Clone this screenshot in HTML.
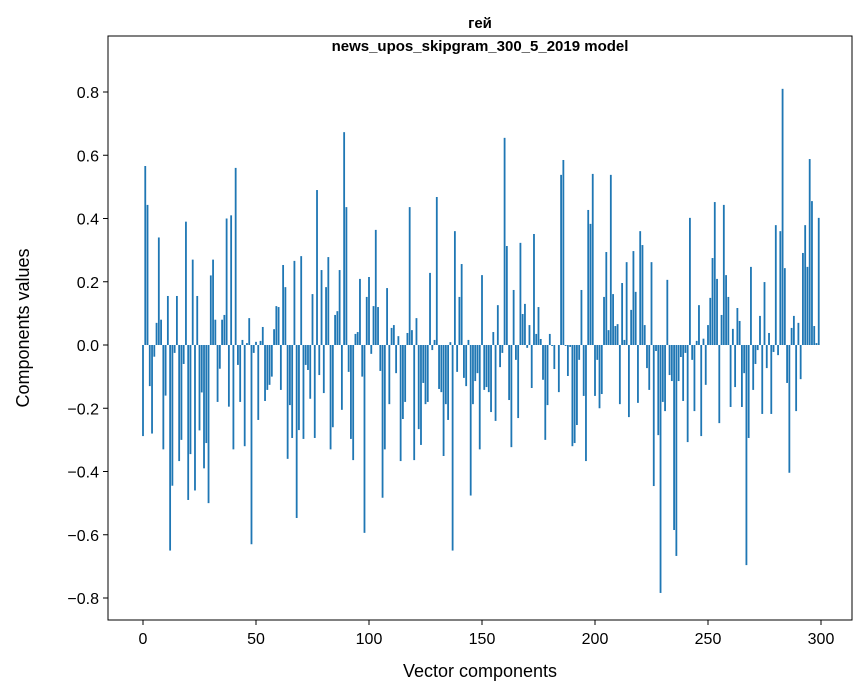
<!DOCTYPE html>
<html><head><meta charset="utf-8"><style>
body{margin:0;background:#fff;}
svg{display:block;font-family:"Liberation Sans","DejaVu Sans",sans-serif;}
</style></head><body>
<svg id="chart" width="867" height="696">
<text x="480" y="28" text-anchor="middle" font-size="15" font-weight="bold">гей</text>
<text x="480" y="51" text-anchor="middle" font-size="15" font-weight="bold">news_upos_skipgram_300_5_2019 model</text>
<g id="bars"></g>
<g id="axes"></g>
<text x="480" y="677" text-anchor="middle" font-size="18">Vector components</text>
<text transform="translate(29,328) rotate(-90)" text-anchor="middle" font-size="18">Components values</text>
</svg>
<script>
const values = [-0.288,0.566,0.443,-0.13,-0.28,-0.037,0.07,0.34,0.08,-0.33,-0.16,0.155,-0.65,-0.445,-0.025,0.155,-0.367,-0.30,-0.06,0.39,
-0.49,-0.345,0.27,-0.46,0.155,-0.27,-0.15,-0.39,-0.31,-0.50,0.22,0.27,0.08,-0.18,-0.075,0.08,0.095,0.40,-0.195,0.41,
-0.33,0.56,-0.063,-0.18,0.016,-0.32,0.006,0.085,-0.63,-0.025,0.01,-0.237,0.013,0.057,-0.177,-0.142,-0.126,-0.10,0.05,0.123,
0.12,-0.142,0.253,0.183,-0.36,-0.19,-0.294,0.266,-0.547,-0.269,0.281,-0.297,-0.063,-0.079,-0.17,0.161,-0.294,0.49,-0.095,0.237,
-0.152,0.183,0.278,-0.33,-0.26,0.095,0.107,0.237,-0.205,0.673,0.436,-0.085,-0.297,-0.364,0.035,0.041,0.209,-0.10,-0.594,0.152,
0.215,-0.028,0.123,0.364,0.12,-0.082,-0.483,-0.33,0.18,-0.187,0.054,0.063,-0.089,0.028,-0.367,-0.234,-0.18,0.038,0.436,0.047,
-0.364,0.085,-0.266,-0.316,-0.12,-0.187,-0.18,0.228,-0.016,0.016,0.468,-0.139,-0.149,-0.351,-0.187,-0.237,0.009,-0.65,0.36,-0.085,
0.152,0.256,-0.104,-0.13,0.016,-0.476,-0.187,-0.114,-0.089,-0.33,0.221,-0.142,-0.133,-0.149,-0.212,0.041,-0.24,0.126,-0.07,-0.025,
0.655,0.313,-0.174,-0.323,0.174,-0.047,-0.231,0.323,0.098,0.13,-0.009,0.063,-0.136,0.351,0.035,0.12,0.019,-0.11,-0.30,-0.19,
0.035,-0.003,-0.076,0.0,-0.149,0.538,0.585,-0.003,-0.098,-0.006,-0.32,-0.31,-0.253,-0.047,0.174,-0.161,-0.367,0.427,0.383,0.541,
-0.161,-0.047,-0.2,-0.155,0.152,0.294,0.047,0.538,0.161,0.06,0.066,-0.187,0.196,0.016,0.262,-0.228,0.111,0.297,0.168,-0.183,
0.36,0.316,0.063,-0.073,-0.142,0.262,-0.446,-0.019,-0.285,-0.784,-0.18,-0.209,0.206,-0.095,-0.114,-0.585,-0.667,-0.114,-0.038,-0.177,
-0.025,-0.307,0.402,-0.047,-0.209,0.013,0.126,-0.288,0.02,-0.126,0.063,0.149,0.275,0.452,0.209,-0.247,0.095,0.443,0.221,0.152,
-0.196,0.051,-0.133,0.117,0.076,-0.196,-0.089,-0.696,-0.294,0.247,-0.142,-0.06,-0.016,0.092,-0.218,0.199,-0.073,0.038,-0.218,-0.022,
0.379,-0.032,0.36,0.81,0.243,-0.12,-0.404,0.054,0.092,-0.209,0.07,-0.108,0.291,0.379,0.247,0.588,0.455,0.06,0.006,0.402];
const xTicks = [0,50,100,150,200,250,300];
const yTicks = [-0.8,-0.6,-0.4,-0.2,0.0,0.2,0.4,0.6,0.8];

const NS = "http://www.w3.org/2000/svg";
const L=108,R=852,T=36,B=620;
function xs(v){return 143 + v*(821-143)/300;}
function ys(v){return 345 - v*316.25;}
const bars=document.getElementById('bars');
values.forEach((v,i)=>{
  const r=document.createElementNS(NS,'rect');
  const x0=xs(i-0.4), x1=xs(i+0.4);
  const y0=Math.min(ys(v),ys(0)), h=Math.abs(ys(v)-ys(0));
  r.setAttribute('x',x0);r.setAttribute('width',x1-x0);
  r.setAttribute('y',y0);r.setAttribute('height',h);
  r.setAttribute('fill','#1f77b4');
  
  
  bars.appendChild(r);
});
const axes=document.getElementById('axes');
const frame=document.createElementNS(NS,'rect');
frame.setAttribute('x',L);frame.setAttribute('y',T);frame.setAttribute('width',R-L);frame.setAttribute('height',B-T);
frame.setAttribute('fill','none');frame.setAttribute('stroke','#000');frame.setAttribute('stroke-width','1');


axes.appendChild(frame);
xTicks.forEach(t=>{
  const l=document.createElementNS(NS,'line');
  l.setAttribute('x1',xs(t));l.setAttribute('x2',xs(t));l.setAttribute('y1',B);l.setAttribute('y2',B+5);l.setAttribute('stroke','#000');
  
  
  axes.appendChild(l);
  const tx=document.createElementNS(NS,'text');
  tx.setAttribute('x',xs(t));tx.setAttribute('y',B+24);tx.setAttribute('text-anchor','middle');tx.setAttribute('font-size','16');
  tx.textContent=String(t);
  
  
  axes.appendChild(tx);
});
yTicks.forEach(t=>{
  const l=document.createElementNS(NS,'line');
  l.setAttribute('x1',L-5);l.setAttribute('x2',L);l.setAttribute('y1',ys(t));l.setAttribute('y2',ys(t));l.setAttribute('stroke','#000');
  
  
  axes.appendChild(l);
  const tx=document.createElementNS(NS,'text');
  tx.setAttribute('x',L-9);tx.setAttribute('y',ys(t)+6);tx.setAttribute('text-anchor','end');tx.setAttribute('font-size','16');
  tx.textContent=(t<0?'\u2212':'')+Math.abs(t).toFixed(1);
  
  
  axes.appendChild(tx);
});
</script>
</body></html>
